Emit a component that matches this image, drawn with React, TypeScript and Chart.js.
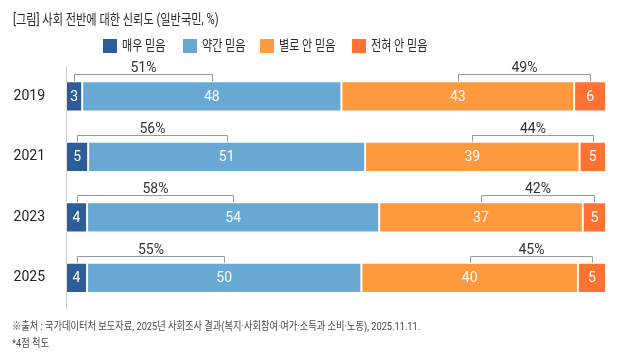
import React, { useEffect, useRef } from "react";
import { Chart, registerables } from "chart.js";

Chart.register(...registerables);

const years = ["2019", "2021", "2023", "2025"];
const seriesLabels = ["매우 믿음", "약간 믿음", "별로 안 믿음", "전혀 안 믿음"];
// bar lengths (% share)
const veryTrust = [3.0, 4.1, 3.9, 3.9];
const somewhatTrust = [48.0, 51.3, 54.1, 50.8];
const notMuchTrust = [43.1, 39.7, 37.7, 40.1];
const noTrust = [5.9, 4.9, 4.3, 5.2];
// printed labels
const veryTrustLabels = [3, 5, 4, 4];
const somewhatTrustLabels = [48, 51, 54, 50];
const notMuchTrustLabels = [43, 39, 37, 40];
const noTrustLabels = [6, 5, 5, 5];
const trustTotals = [51, 56, 58, 55];
const distrustTotals = [49, 44, 42, 45];
const seriesColors = ["#2E5C99", "#68A8D3", "#FF993E", "#FF7232"];
const titleText = "[그림] 사회 전반에 대한 신뢰도 (일반국민, %)";
const footnotes = [
  "※출처 : 국가데이터처 보도자료, 2025년 사회조사 결과(복지·사회참여·여가·소득과 소비·노동), 2025.11.11.",
  "*4점 척도",
];

const FONT = "Roboto, 'Noto Sans CJK KR', sans-serif";

function condensedText(ctx: CanvasRenderingContext2D, text: string, x: number, y: number, sx: number) {
  ctx.save();
  ctx.translate(x, y);
  ctx.scale(sx, 1);
  ctx.fillText(text, 0, 0);
  ctx.restore();
}

export default function App() {
  const ref = useRef<HTMLCanvasElement | null>(null);

  useEffect(() => {
    if (!ref.current) return;
    const seriesData = [veryTrust, somewhatTrust, notMuchTrust, noTrust];
    const labelData = [veryTrustLabels, somewhatTrustLabels, notMuchTrustLabels, noTrustLabels];

    const overlay = {
      id: "overlay",
      afterDraw(chart: any) {
        const ctx = chart.ctx as CanvasRenderingContext2D;
        const xs = chart.scales.x;
        const ys = chart.scales.y;
        ctx.save();

        // title
        ctx.fillStyle = "#2a2a2a";
        ctx.font = `14px ${FONT}`;
        ctx.textAlign = "left";
        ctx.textBaseline = "middle";
        condensedText(ctx, titleText, 13, 20, 0.8);

        // legend
        const legendX = [103, 183, 260, 352];
        seriesLabels.forEach((lab, i) => {
          ctx.fillStyle = seriesColors[i];
          ctx.fillRect(legendX[i], 39, 14, 14);
          ctx.fillStyle = "#2a2a2a";
          ctx.font = `14px ${FONT}`;
          ctx.textAlign = "left";
          ctx.textBaseline = "middle";
          condensedText(ctx, lab, legendX[i] + 19, 46, 0.79);
        });

        // value labels inside bars
        ctx.font = `14px ${FONT}`;
        ctx.fillStyle = "#fff";
        ctx.textAlign = "center";
        ctx.textBaseline = "middle";
        years.forEach((_, r) => {
          let cum = 0;
          const yc = ys.getPixelForValue(r);
          seriesData.forEach((arr, s) => {
            const v = arr[r];
            const xc = xs.getPixelForValue(cum + v / 2);
            ctx.fillText(String(labelData[s][r]), xc, yc + 1);
            cum += v;
          });
        });

        // brackets
        const meta = chart.getDatasetMeta(0);
        years.forEach((_, r) => {
          const bar = meta.data[r];
          const barTop = bar.y - bar.height / 2;
          const lineY = Math.round(barTop - 7) + 0.5;
          const c1 = xs.getPixelForValue(veryTrust[r] / 2);
          const c2 = xs.getPixelForValue(veryTrust[r] + somewhatTrust[r] / 2);
          const base3 = veryTrust[r] + somewhatTrust[r];
          const c3 = xs.getPixelForValue(base3 + notMuchTrust[r] / 2);
          const c4 = xs.getPixelForValue(base3 + notMuchTrust[r] + noTrust[r] / 2);
          const pairs: [number, number, number][] = [
            [c1, c2, trustTotals[r]],
            [c3, c4, distrustTotals[r]],
          ];
          pairs.forEach(([a, b, t]) => {
            const ax = Math.round(a) + 0.5;
            const bx = Math.round(b) + 0.5;
            ctx.strokeStyle = "#999";
            ctx.lineWidth = 1;
            ctx.beginPath();
            ctx.moveTo(ax, barTop);
            ctx.lineTo(ax, lineY);
            ctx.lineTo(bx, lineY);
            ctx.lineTo(bx, barTop);
            ctx.stroke();
            ctx.fillStyle = "#333";
            ctx.font = `14px ${FONT}`;
            ctx.textAlign = "center";
            ctx.textBaseline = "alphabetic";
            ctx.fillText(`${t}%`, (ax + bx) / 2, lineY - 3);
          });
        });

        // footnotes
        ctx.fillStyle = "#4a4a4a";
        ctx.font = `11px ${FONT}`;
        ctx.textAlign = "left";
        ctx.textBaseline = "middle";
        condensedText(ctx, footnotes[0], 12, 327, 0.84);
        condensedText(ctx, footnotes[1], 12, 344, 0.84);

        ctx.restore();
      },
    };

    const chart = new Chart(ref.current, {
      type: "bar",
      data: {
        labels: years,
        datasets: seriesLabels.map((lab, i) => ({
          label: lab,
          data: seriesData[i],
          backgroundColor: seriesColors[i],
          borderColor: "rgba(255,255,255,0.35)",
          borderWidth: 1,
          borderSkipped: false,
          categoryPercentage: 1,
          barPercentage: 0.5,
        })),
      },
      options: {
        indexAxis: "y",
        responsive: false,
        animation: false,
        devicePixelRatio: 1,
        layout: { padding: { top: 66, bottom: 56, left: 0, right: 23 } },
        plugins: {
          legend: { display: false },
          title: { display: false },
          tooltip: { enabled: false },
        },
        scales: {
          x: {
            stacked: true,
            min: 0,
            max: 100,
            display: false,
          },
          y: {
            stacked: true,
            grid: { display: false, drawTicks: false },
            border: { display: true, color: "#ccc", width: 1 },
            ticks: {
              padding: 21,
              color: "#222",
              font: { family: FONT, size: 14 },
            },
            afterFit: (scale: any) => {
              scale.width = 66;
            },
          },
        },
      } as any,
      plugins: [overlay],
    });
    return () => chart.destroy();
  }, []);

  return (
    <div style={{ position: "absolute", left: 0, top: 0, width: 629, height: 364, background: "#fff" }}>
      <canvas ref={ref} width={629} height={364} style={{ display: "block" }} />
    </div>
  );
}
